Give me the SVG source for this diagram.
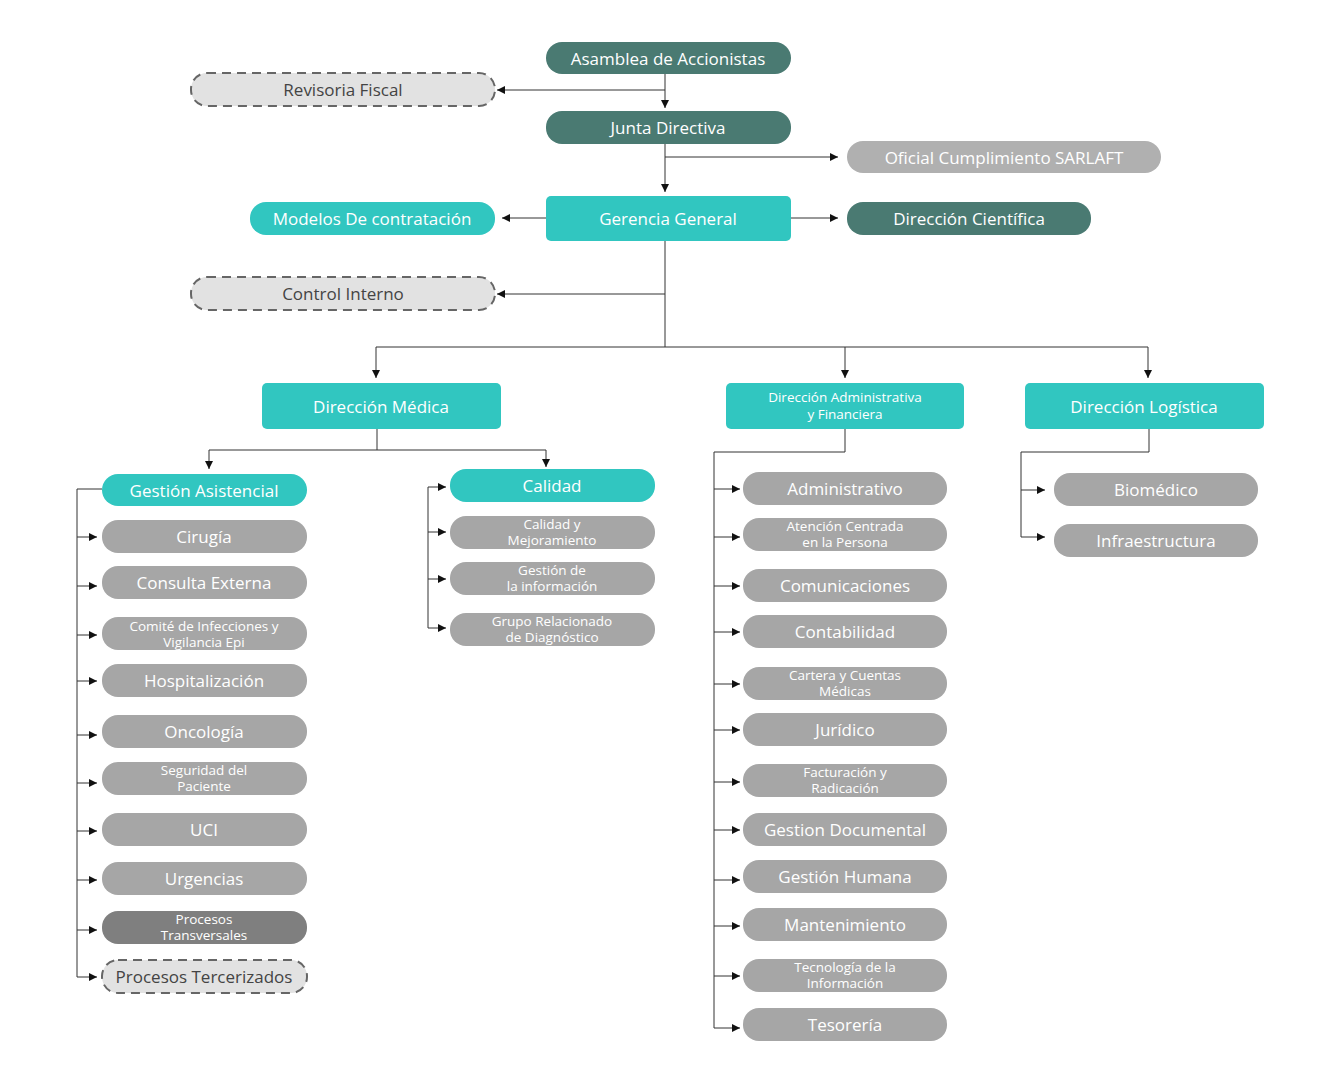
<svg xmlns="http://www.w3.org/2000/svg" width="1339" height="1080" viewBox="0 0 1339 1080">
<defs>
<marker id="a" viewBox="0 0 10 10" refX="10" refY="5" markerWidth="8" markerHeight="8" markerUnits="userSpaceOnUse" orient="auto"><path d="M0,0L10,5L0,10z" fill="#111"/></marker>
<style>
text{font-family:"Open Sans","Noto Sans",sans-serif;fill:#fff;text-anchor:middle;dominant-baseline:central}
.t1{font-size:17px}.t2{font-size:13.5px}
.dk rect{fill:#4a7a72}.cy rect{fill:#31c6c0}.gr rect{fill:#a6a6a6}.lg rect{fill:#b0b0b0}.dg rect{fill:#7f7f7f}
.ds rect{fill:#e2e2e2;stroke:#666;stroke-width:2;stroke-dasharray:9 6}.ds text{fill:#444}
#c path{fill:none;stroke:#333;stroke-width:1}
#c .ar{marker-end:url(#a)}
</style>
</defs>
<rect width="1339" height="1080" fill="#fff"/>
<g id="c">
<path d="M665,74V108" class="ar"/>
<path d="M665,90H497" class="ar"/>
<path d="M665,144V192" class="ar"/>
<path d="M665,157H838" class="ar"/>
<path d="M546,218H502" class="ar"/>
<path d="M791,218H838" class="ar"/>
<path d="M665,241V347"/>
<path d="M665,294H497" class="ar"/>
<path d="M376,347H1148"/>
<path d="M376,347V378" class="ar"/>
<path d="M845,347V378" class="ar"/>
<path d="M1148,347V378" class="ar"/>
<path d="M377,429V450H209"/><path d="M377,450H546"/>
<path d="M209,450V469" class="ar"/><path d="M546,450V467" class="ar"/>
<path d="M102,489H77V977"/>
<path d="M77,537H97" class="ar"/><path d="M77,586H97" class="ar"/><path d="M77,635H97" class="ar"/><path d="M77,681H97" class="ar"/><path d="M77,735H97" class="ar"/><path d="M77,783H97" class="ar"/><path d="M77,831H97" class="ar"/><path d="M77,880H97" class="ar"/><path d="M77,930H97" class="ar"/><path d="M77,977H97" class="ar"/>
<path d="M428,487V628"/>
<path d="M428,487H446" class="ar"/><path d="M428,532H446" class="ar"/><path d="M428,579H446" class="ar"/><path d="M428,628H446" class="ar"/>
<path d="M845,429V452H714V1028"/>
<path d="M714,489H740" class="ar"/><path d="M714,537H740" class="ar"/><path d="M714,586H740" class="ar"/><path d="M714,632H740" class="ar"/><path d="M714,684H740" class="ar"/><path d="M714,730H740" class="ar"/><path d="M714,782H740" class="ar"/><path d="M714,830H740" class="ar"/><path d="M714,880H740" class="ar"/><path d="M714,926H740" class="ar"/><path d="M714,976H740" class="ar"/><path d="M714,1028H740" class="ar"/>
<path d="M1149,429V452H1021V537"/>
<path d="M1021,490H1045" class="ar"/><path d="M1021,537H1045" class="ar"/>
</g>
<g id="asamblea" class="dk"><rect x="546" y="42" width="245" height="32" rx="16"/><text class="t1" x="668" y="58">Asamblea de Accionistas</text></g>
<g id="revisoria" class="ds"><rect x="191" y="73" width="304" height="33" rx="16"/><text class="t1" x="343" y="89">Revisoria Fiscal</text></g>
<g id="junta" class="dk"><rect x="546" y="111" width="245" height="33" rx="16"/><text class="t1" x="668" y="127">Junta Directiva</text></g>
<g id="oficial" class="lg"><rect x="847" y="141" width="314" height="32" rx="16"/><text class="t1" x="1004" y="157">Oficial Cumplimiento SARLAFT</text></g>
<g id="modelos" class="cy"><rect x="250" y="202" width="245" height="33" rx="16"/><text class="t1" x="372" y="218">Modelos De contratación</text></g>
<g id="gerencia" class="cy"><rect x="546" y="196" width="245" height="45" rx="5"/><text class="t1" x="668" y="218">Gerencia General</text></g>
<g id="cientifica" class="dk"><rect x="847" y="202" width="244" height="33" rx="16"/><text class="t1" x="969" y="218">Dirección Científica</text></g>
<g id="control" class="ds"><rect x="191" y="277" width="304" height="33" rx="16"/><text class="t1" x="343" y="293">Control Interno</text></g>
<g id="dmedica" class="cy"><rect x="262" y="383" width="239" height="46" rx="5"/><text class="t1" x="381" y="406">Dirección Médica</text></g>
<g id="dadmin" class="cy"><rect x="726" y="383" width="238" height="46" rx="5"/><text class="t2" x="845" y="397">Dirección Administrativa</text><text class="t2" x="845" y="414">y Financiera</text></g>
<g id="dlog" class="cy"><rect x="1025" y="383" width="239" height="46" rx="5"/><text class="t1" x="1144" y="406">Dirección Logística</text></g>
<g id="gasist" class="cy"><rect x="102" y="474" width="205" height="32" rx="16"/><text class="t1" x="204" y="490">Gestión Asistencial</text></g>
<g id="cirugia" class="gr"><rect x="102" y="520" width="205" height="33" rx="16"/><text class="t1" x="204" y="536">Cirugía</text></g>
<g id="consulta" class="gr"><rect x="102" y="566" width="205" height="33" rx="16"/><text class="t1" x="204" y="582">Consulta Externa</text></g>
<g id="comite" class="gr"><rect x="102" y="617" width="205" height="33" rx="16"/><text class="t2" x="204" y="626">Comité de Infecciones y</text><text class="t2" x="204" y="642">Vigilancia Epi</text></g>
<g id="hosp" class="gr"><rect x="102" y="664" width="205" height="33" rx="16"/><text class="t1" x="204" y="680">Hospitalización</text></g>
<g id="onco" class="gr"><rect x="102" y="715" width="205" height="33" rx="16"/><text class="t1" x="204" y="731">Oncología</text></g>
<g id="seguridad" class="gr"><rect x="102" y="762" width="205" height="33" rx="16"/><text class="t2" x="204" y="770">Seguridad del</text><text class="t2" x="204" y="786">Paciente</text></g>
<g id="uci" class="gr"><rect x="102" y="813" width="205" height="33" rx="16"/><text class="t1" x="204" y="829">UCI</text></g>
<g id="urgencias" class="gr"><rect x="102" y="862" width="205" height="33" rx="16"/><text class="t1" x="204" y="878">Urgencias</text></g>
<g id="transv" class="dg"><rect x="102" y="911" width="205" height="33" rx="16"/><text class="t2" x="204" y="919">Procesos</text><text class="t2" x="204" y="935">Transversales</text></g>
<g id="tercer" class="ds"><rect x="102" y="960" width="205" height="33" rx="16"/><text class="t1" x="204" y="976">Procesos Tercerizados</text></g>
<g id="calidad" class="cy"><rect x="450" y="469" width="205" height="33" rx="16"/><text class="t1" x="552" y="485">Calidad</text></g>
<g id="calmej" class="gr"><rect x="450" y="516" width="205" height="33" rx="16"/><text class="t2" x="552" y="524">Calidad y</text><text class="t2" x="552" y="540">Mejoramiento</text></g>
<g id="gestinfo" class="gr"><rect x="450" y="562" width="205" height="33" rx="16"/><text class="t2" x="552" y="570">Gestión de</text><text class="t2" x="552" y="586">la información</text></g>
<g id="grd" class="gr"><rect x="450" y="613" width="205" height="33" rx="16"/><text class="t2" x="552" y="621">Grupo Relacionado</text><text class="t2" x="552" y="637">de Diagnóstico</text></g>
<g id="admin" class="gr"><rect x="743" y="472" width="204" height="33" rx="16"/><text class="t1" x="845" y="488">Administrativo</text></g>
<g id="atencion" class="gr"><rect x="743" y="518" width="204" height="33" rx="16"/><text class="t2" x="845" y="526">Atención Centrada</text><text class="t2" x="845" y="542">en la Persona</text></g>
<g id="comunic" class="gr"><rect x="743" y="569" width="204" height="33" rx="16"/><text class="t1" x="845" y="585">Comunicaciones</text></g>
<g id="contab" class="gr"><rect x="743" y="615" width="204" height="33" rx="16"/><text class="t1" x="845" y="631">Contabilidad</text></g>
<g id="cartera" class="gr"><rect x="743" y="667" width="204" height="33" rx="16"/><text class="t2" x="845" y="675">Cartera y Cuentas</text><text class="t2" x="845" y="691">Médicas</text></g>
<g id="juridico" class="gr"><rect x="743" y="713" width="204" height="33" rx="16"/><text class="t1" x="845" y="729">Jurídico</text></g>
<g id="factur" class="gr"><rect x="743" y="764" width="204" height="33" rx="16"/><text class="t2" x="845" y="772">Facturación y</text><text class="t2" x="845" y="788">Radicación</text></g>
<g id="gdoc" class="gr"><rect x="743" y="813" width="204" height="33" rx="16"/><text class="t1" x="845" y="829">Gestion Documental</text></g>
<g id="ghum" class="gr"><rect x="743" y="860" width="204" height="33" rx="16"/><text class="t1" x="845" y="876">Gestión Humana</text></g>
<g id="mant" class="gr"><rect x="743" y="908" width="204" height="33" rx="16"/><text class="t1" x="845" y="924">Mantenimiento</text></g>
<g id="tecno" class="gr"><rect x="743" y="959" width="204" height="33" rx="16"/><text class="t2" x="845" y="967">Tecnología de la</text><text class="t2" x="845" y="983">Información</text></g>
<g id="tesor" class="gr"><rect x="743" y="1008" width="204" height="33" rx="16"/><text class="t1" x="845" y="1024">Tesorería</text></g>
<g id="biomed" class="gr"><rect x="1054" y="473" width="204" height="33" rx="16"/><text class="t1" x="1156" y="489">Biomédico</text></g>
<g id="infra" class="gr"><rect x="1054" y="524" width="204" height="33" rx="16"/><text class="t1" x="1156" y="540">Infraestructura</text></g>
</svg>
